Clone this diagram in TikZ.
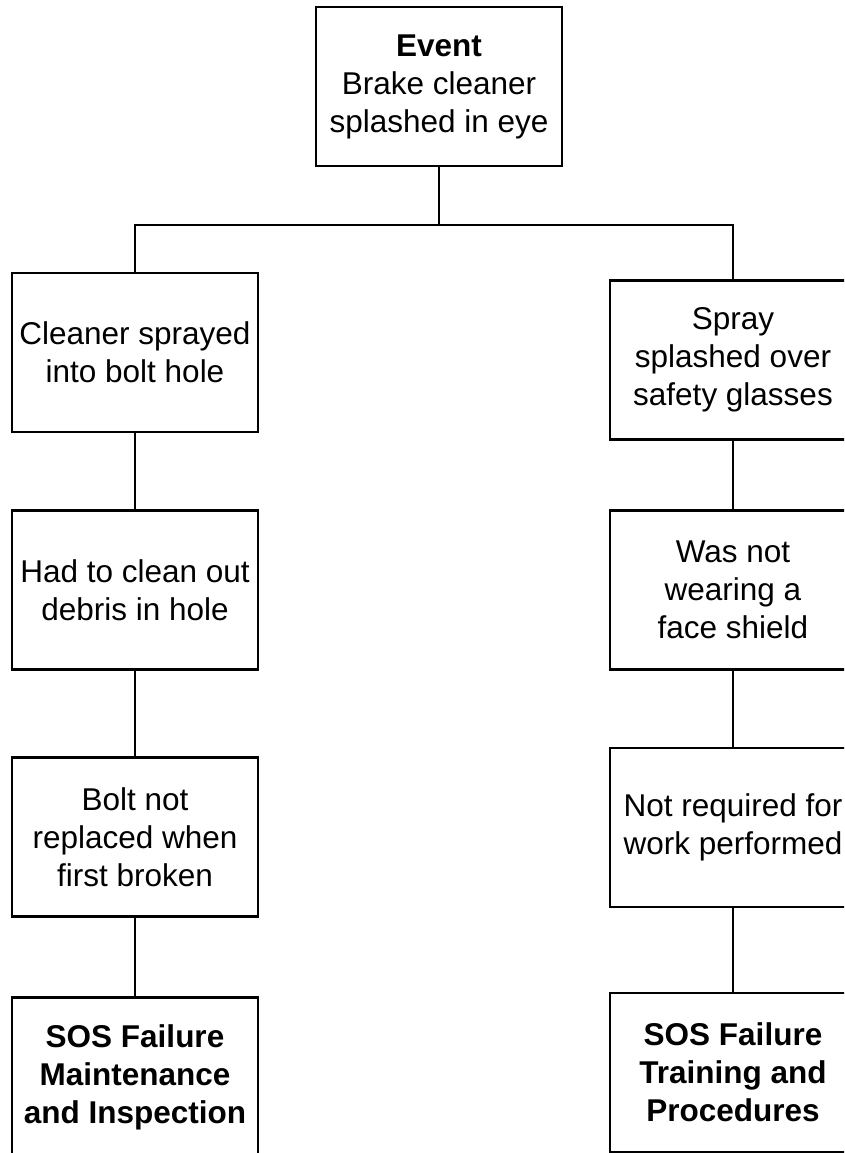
\documentclass[tikz,border=0pt]{standalone}
\usepackage{fontspec}
\setmainfont{Liberation Sans}
\usepackage{tikz}
\usetikzlibrary{positioning}
\usetikzlibrary{calc}
\tikzstyle{undirectededge} = [draw,line width=2.4pt]
\tikzset{nd/.style={rectangle,draw,line width=2.4pt,align=center,minimum width=246pt,minimum height=159pt,inner sep=2pt,font=\fontsize{31.5}{38}\selectfont}}

\begin{document}
\begin{tikzpicture}[x=1pt,y=-1pt]
    \useasboundingbox (0,0) rectangle (844,1153);
    \clip (0,0) rectangle (844,1153);
    % First we draw the boxes
    \foreach \pos/\name/\label in {{(439,86.5)/top/{\textbf{Event}\\Brake cleaner\\splashed in eye}},
    {(135,352.5)/L1/{Cleaner sprayed\\into bolt hole}}, {(733,360)/R1/{Spray\\splashed over\\safety glasses}},
    {(135,590)/L2/{Had to clean out\\debris in hole}}, {(733,590)/R2/{Was not\\wearing a\\face shield}},
    {(135,837)/L3/{Bolt not\\replaced when\\first broken}}, {(733,827.5)/R3/{Not required for\\work performed}},
    {(135,1077)/L4/{\textbf{SOS Failure}\\\textbf{Maintenance}\\\textbf{and Inspection}}}, {(733,1072.5)/R4/{\textbf{SOS Failure}\\\textbf{Training and}\\\textbf{Procedures}}}}
        \node[nd] (\name) at \pos {\label};

    % Split under the event
    \coordinate (split) at (439,225);
    \path[undirectededge] (top) -- (split);
    \path[undirectededge] (L1.north) |- (split) -| (R1.north);

    % Connect the chains
    \foreach \source/\dest in {L1/L2, L2/L3, L3/L4, R1/R2, R2/R3, R3/R4}
        \path[undirectededge] (\source) -- (\dest);
\end{tikzpicture}
\end{document}
